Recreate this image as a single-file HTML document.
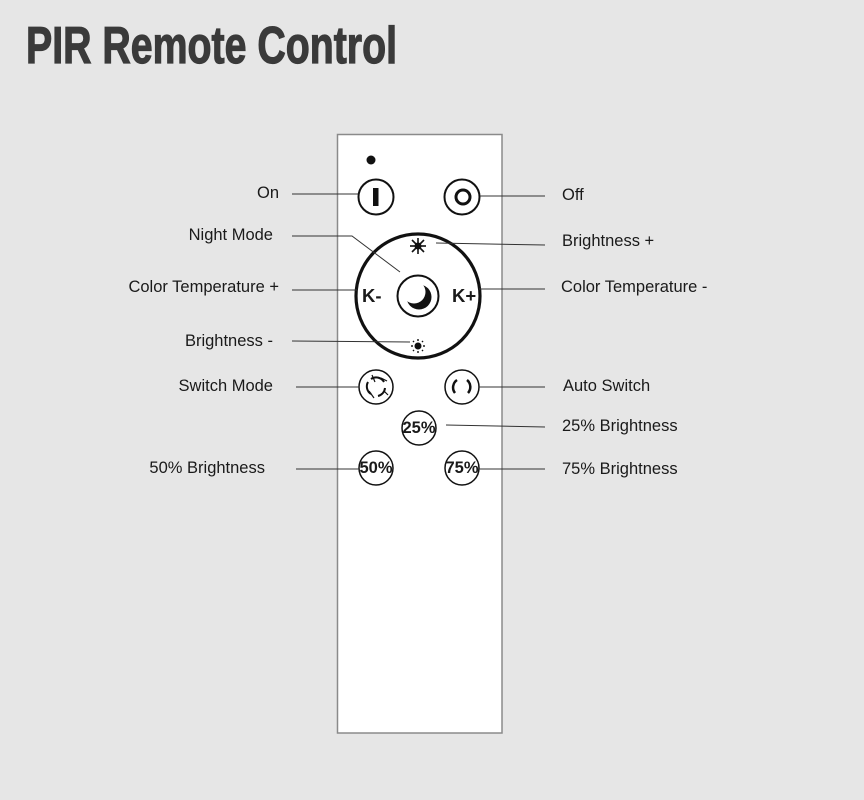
<!DOCTYPE html>
<html><head><meta charset="utf-8"><style>
html,body{margin:0;padding:0;background:#e6e6e6;}
svg{display:block}
text{font-family:"Liberation Sans",sans-serif;font-size:16.5px;fill:#1a1a1a}
.t{font-family:"Liberation Sans Narrow","Liberation Sans",sans-serif;font-weight:bold;font-size:52px;fill:#3a3a3a;stroke:#3a3a3a;stroke-width:1.2}
</style></head><body>
<svg width="864" height="800" viewBox="0 0 864 800" xmlns="http://www.w3.org/2000/svg">
<rect width="864" height="800" fill="#e6e6e6"/>
<text class="t" x="26" y="63" textLength="371" lengthAdjust="spacingAndGlyphs">PIR Remote Control</text>
<rect x="337.5" y="134.5" width="164.5" height="598.5" fill="#fff" stroke="#8a8a8a" stroke-width="1.5"/>
<circle cx="371" cy="160" r="4.5" fill="#111"/>
<g fill="none" stroke="#111" stroke-width="1.5">
 <circle cx="376" cy="197" r="17.5" stroke-width="2"/>
 <circle cx="462" cy="197" r="17.5" stroke-width="2"/>
 <circle cx="418" cy="296" r="62" stroke-width="3.2"/>
 <circle cx="418" cy="296" r="20.5" stroke-width="2"/>
 <circle cx="376" cy="387" r="17"/>
 <circle cx="462" cy="387" r="17"/>
 <circle cx="419" cy="428" r="17"/>
 <circle cx="376" cy="468" r="17"/>
 <circle cx="462" cy="468" r="17"/>
 <circle cx="463" cy="197" r="7" stroke-width="3"/>
</g>
<rect x="373" y="188" width="5.5" height="18" fill="#111"/>
<circle cx="419" cy="297" r="12.5" fill="#111"/>
<circle cx="414" cy="292" r="11.5" fill="#fff"/>
<g stroke="#111" stroke-width="1.6">
 <line x1="418" y1="238" x2="418" y2="254"/><line x1="410" y1="246" x2="426" y2="246"/>
 <line x1="412" y1="240" x2="424" y2="252"/><line x1="424" y1="240" x2="412" y2="252"/>
</g>
<circle cx="418" cy="246" r="3.5" fill="#111"/>
<circle cx="418" cy="346" r="3.5" fill="#111"/>
<g stroke="#111" stroke-width="1.4">
 <line x1="418" y1="339" x2="418" y2="341"/><line x1="418" y1="351" x2="418" y2="353"/>
 <line x1="411" y1="346" x2="413" y2="346"/><line x1="423" y1="346" x2="425" y2="346"/>
 <line x1="413" y1="341" x2="414" y2="342"/><line x1="422" y1="350" x2="423" y2="351"/>
 <line x1="423" y1="341" x2="422" y2="342"/><line x1="413" y1="351" x2="414" y2="350"/>
</g>
<g fill="none" stroke="#111" stroke-width="2">
 <path d="M371 379 A9 9 0 0 1 384 382"/><path d="M385 388 A9 9 0 0 1 378 396"/><path d="M371 394 A9 9 0 0 1 368 382"/>
 <path d="M457 380 A9 9 0 0 0 455 393" stroke-width="2.5"/><path d="M467 380 A9 9 0 0 1 468 393" stroke-width="2.5"/>
</g>
<g stroke="#111" stroke-width="1.2">
 <line x1="372" y1="375" x2="375" y2="382"/><line x1="381" y1="378" x2="387" y2="381"/>
 <line x1="384" y1="391" x2="388" y2="395"/><line x1="369" y1="391" x2="374" y2="398"/>
</g>
<text x="362" y="302" style="font-weight:bold;font-size:18.5px">K-</text>
<text x="452" y="302" style="font-weight:bold;font-size:18.5px">K+</text>
<g style="font-weight:bold;font-size:13px" text-anchor="middle">
 <text x="419" y="433">25%</text><text x="376" y="473">50%</text><text x="462" y="473">75%</text>
</g>
<g stroke="#333" stroke-width="1" fill="none">
 <line x1="292" y1="194" x2="358" y2="194"/>
 <line x1="480" y1="196" x2="545" y2="196"/>
 <polyline points="292,236 352,236 400,272"/>
 <line x1="436" y1="243" x2="545" y2="245"/>
 <line x1="292" y1="290" x2="357" y2="290"/>
 <line x1="479" y1="289" x2="545" y2="289"/>
 <line x1="292" y1="341" x2="410" y2="342"/>
 <line x1="296" y1="387" x2="359" y2="387"/>
 <line x1="479" y1="387" x2="545" y2="387"/>
 <line x1="446" y1="425" x2="545" y2="427"/>
 <line x1="296" y1="469" x2="359" y2="469"/>
 <line x1="479" y1="469" x2="545" y2="469"/>
</g>
<g text-anchor="end">
 <text x="279" y="198">On</text>
 <text x="273" y="240">Night Mode</text>
 <text x="279" y="292">Color Temperature +</text>
 <text x="273" y="346">Brightness -</text>
 <text x="273" y="391">Switch Mode</text>
 <text x="265" y="473">50% Brightness</text>
</g>
<text x="562" y="200">Off</text>
<text x="562" y="246">Brightness +</text>
<text x="561" y="292">Color Temperature -</text>
<text x="563" y="391">Auto Switch</text>
<text x="562" y="431">25% Brightness</text>
<text x="562" y="474">75% Brightness</text>
</svg>
</body></html>
